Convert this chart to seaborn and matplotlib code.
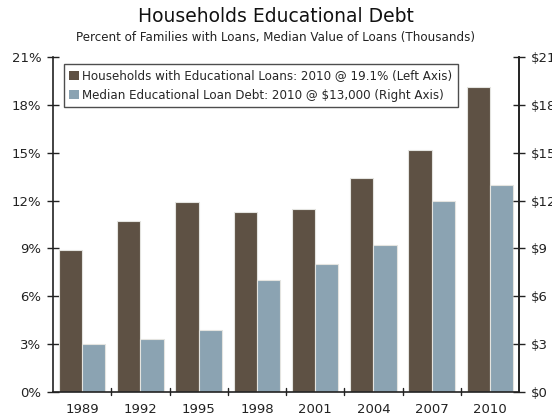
import matplotlib
matplotlib.use("Agg")
import matplotlib.pyplot as plt
import seaborn as sns
import pandas as pd

years = ["1989", "1992", "1995", "1998", "2001", "2004", "2007", "2010"]
pct_with_loans = [8.9, 10.7, 11.9, 11.3, 11.5, 13.4, 15.2, 19.1]       # percent, left axis
median_debt_k = [3.0, 3.3, 3.9, 7.0, 8.0, 9.2, 12.0, 13.0]             # $ thousands, right axis
series_names = [
    "Households with Educational Loans: 2010 @ 19.1% (Left Axis)",
    "Median Educational Loan Debt: 2010 @ $13,000 (Right Axis)",
]
left_ticks = [0, 3, 6, 9, 12, 15, 18, 21]
left_labels = [f"{t}%" for t in left_ticks]
right_labels = [f"${t}" for t in left_ticks]
colors = ["#5E5144", "#8BA3B2"]

sns.set_theme(style="white")
plt.rcParams["font.family"] = ["DejaVu Sans"]

df = pd.DataFrame({
    "year": years * 2,
    "value": pct_with_loans + median_debt_k,
    "series": [series_names[0]] * len(years) + [series_names[1]] * len(years),
})

fig = plt.figure(figsize=(5.52, 4.18), dpi=100)
ax = fig.add_axes([53 / 552, 1 - 392 / 418, 466 / 552, 335 / 418])

sns.barplot(data=df, x="year", y="value", hue="series", palette=colors,
            width=0.8, dodge=True, ax=ax, edgecolor="#E4E4E0", linewidth=0.8,
            saturation=1)

ax.set_xlim(-0.5, len(years) - 0.5)
ax.set_ylim(0, 21)
ax.set_yticks(left_ticks)
ax.set_yticklabels(left_labels, fontsize=9.5, color="#222222")
ax.set_xlabel("")
ax.set_ylabel("")
ax.tick_params(axis="x", length=0, labelsize=9.5, colors="#222222", pad=8)
ax.tick_params(axis="y", direction="inout", length=9, width=1, colors="#222222",
               labelcolor="#222222", pad=4, left=True)

# category divider ticks along the bottom
for b in range(1, len(years)):
    ax.plot([b - 0.5, b - 0.5], [-0.2, 0.25], color="#222222", lw=1,
            clip_on=False, zorder=5)

ax.spines["top"].set_visible(False)
for side in ["left", "bottom", "right"]:
    ax.spines[side].set_visible(True)
    ax.spines[side].set_color("#222222")
    ax.spines[side].set_linewidth(1.2)

ax2 = ax.twinx()
ax2.set_ylim(0, 21)
ax2.set_yticks(left_ticks)
ax2.set_yticklabels(right_labels, fontsize=9.5, color="#222222")
ax2.tick_params(axis="y", direction="inout", length=9, width=1, colors="#222222",
                labelcolor="#222222", pad=4, right=True)
for side in ["top", "left", "bottom"]:
    ax2.spines[side].set_visible(False)
ax2.spines["right"].set_color("#222222")
ax2.spines["right"].set_linewidth(1.2)
ax2.grid(False)
ax.grid(False)

leg = ax.legend(loc="upper left", bbox_to_anchor=(0.01, 0.997), fontsize=8.6,
                frameon=True, fancybox=False, edgecolor="#222222",
                handlelength=0.8, handleheight=0.8, handletextpad=0.3,
                labelspacing=0.55, borderpad=0.45, title=None)
leg.get_frame().set_linewidth(1.0)
for h in leg.legend_handles:
    h.set_edgecolor("none")

fig.text(0.5, 1 - 17 / 418, "Households Educational Debt", ha="center", va="center",
         fontsize=13.5, color="#111111")
fig.text(0.5, 1 - 37 / 418,
         "Percent of Families with Loans, Median Value of Loans (Thousands)",
         ha="center", va="center", fontsize=8.6, color="#222222")

fig.savefig("out.png", dpi=100, facecolor="white")
